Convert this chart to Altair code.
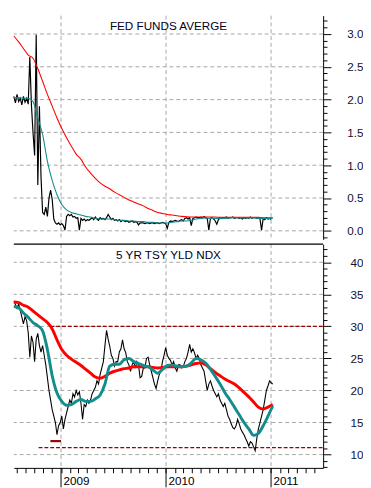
import altair as alt
import pandas as pd

X_START = "2008-07-21"
X_END = "2011-07-01"
YEARS = ["2009-01-01", "2010-01-01", "2011-01-01"]

# Fed funds effective rate, samples every ~5.5 days
fed_daily = [
    2.05, 1.95, 2.08, 1.97, 2.02, 1.92, 2.05, 1.96, 2.02, 1.93,
    2.65, 1.92, 1.50, 1.15, 2.99, 0.70, 1.90, 0.82, 0.28, 0.25,
    0.36, 0.22, 0.50, 0.62, 0.48, 0.18, 0.12, 0.10, 0.12, 0.09,
    0.11, 0.08, 0.01, 0.22, 0.25, 0.23, 0.25, 0.21, 0.22, 0.19,
    0.20, 0.01, 0.19, 0.16, 0.18, 0.15, 0.17, 0.16, 0.18, 0.20,
    0.17, 0.21, 0.18, 0.16, 0.20, 0.18, 0.19, 0.17, 0.20, 0.25,
    0.21, 0.17, 0.19, 0.16, 0.17, 0.15, 0.17, 0.14, 0.16, 0.15,
    0.14, 0.15, 0.13, 0.14, 0.15, 0.13, 0.14, 0.13, 0.09, 0.12,
    0.12, 0.12, 0.11, 0.12, 0.12, 0.11, 0.12, 0.12, 0.11, 0.12,
    0.12, 0.11, 0.12, 0.13, 0.12, 0.11, 0.04, 0.13, 0.15, 0.14,
    0.15, 0.16, 0.15, 0.14, 0.16, 0.17, 0.15, 0.19, 0.20, 0.18,
    0.20, 0.08, 0.19, 0.20, 0.21, 0.20, 0.20, 0.21, 0.20, 0.22,
    0.20, 0.19, 0.01, 0.19, 0.20, 0.18, 0.15, 0.10, 0.17, 0.19,
    0.20, 0.19, 0.20, 0.21, 0.19, 0.20, 0.20, 0.21, 0.19, 0.20,
    0.20, 0.19, 0.20, 0.18, 0.20, 0.19, 0.20, 0.19, 0.21, 0.19,
    0.20, 0.20, 0.19, 0.20, 0.18, 0.01, 0.19, 0.17, 0.20, 0.18,
    0.19, 0.17,
]
# short moving average, samples every ~16.7 days
fed_fast = [
    2.03, 2.03, 2.02, 2.02, 1.97, 1.72, 1.47, 1.06, 0.77, 0.55,
    0.40, 0.32, 0.28, 0.26, 0.24, 0.22, 0.21, 0.19, 0.18, 0.18,
    0.18, 0.17, 0.16, 0.16, 0.15, 0.15, 0.14, 0.14, 0.13, 0.13,
    0.12, 0.12, 0.12, 0.13, 0.14, 0.15, 0.15, 0.16, 0.18, 0.19,
    0.195, 0.19, 0.19, 0.19, 0.19, 0.195, 0.20, 0.20, 0.195, 0.195,
    0.20, 0.19, 0.19, 0.19, 0.19,
]
# long moving average
fed_slow = [
    2.97, 2.88, 2.78, 2.68, 2.63, 2.47, 2.28, 2.08, 1.90, 1.72,
    1.56, 1.42, 1.29, 1.17, 1.09, 0.97, 0.88, 0.80, 0.73, 0.68,
    0.64, 0.59, 0.55, 0.51, 0.47, 0.44, 0.41, 0.38, 0.34, 0.31,
    0.28, 0.265, 0.25, 0.24, 0.23, 0.22, 0.215, 0.21, 0.21, 0.21,
    0.21, 0.21, 0.21, 0.205, 0.205, 0.205, 0.205, 0.205, 0.205, 0.205,
    0.205, 0.205, 0.20, 0.20, 0.20,
]

# 5 yr treasury yield index
tsy_daily = [
    33.9, 33.4, 32.8, 33.5, 32.5, 31.5, 30.4, 31.5, 30.9, 29.0,
    25.2, 28.5, 27.5, 24.5, 28.0, 28.9, 27.0, 26.0, 27.0, 25.5,
    24.0, 22.0, 20.0, 18.5, 17.0, 16.0, 15.0, 13.1, 14.5, 15.0,
    16.0, 14.0, 15.5, 16.5, 17.5, 18.5, 18.0, 19.5, 19.0, 20.0,
    19.3, 19.8, 18.0, 15.5, 17.8, 17.5, 18.5, 18.0, 18.5, 19.5,
    20.0, 20.5, 21.5, 21.0, 22.5, 23.5, 24.5, 27.0, 29.4, 28.0,
    26.9, 25.5, 25.0, 23.8, 24.5, 24.5, 26.0, 26.5, 27.9, 26.5,
    25.9, 24.5, 24.0, 23.0, 24.0, 24.5, 23.5, 24.5, 24.0, 22.0,
    22.2, 23.5, 23.5, 25.0, 25.2, 24.0, 23.0, 22.0, 21.0, 20.3,
    21.5, 22.5, 23.0, 24.5, 25.5, 26.7, 25.5, 25.0, 24.7, 24.0,
    24.5, 23.5, 23.0, 24.0, 24.0, 23.5, 23.7, 24.5, 25.0, 26.0,
    27.2, 26.0, 26.5, 25.9, 25.0, 25.5, 25.0, 24.0, 23.5, 23.0,
    21.5, 20.0, 21.0, 21.5, 20.7, 20.0, 19.5, 19.0, 19.5, 18.5,
    18.0, 17.5, 18.0, 17.0, 16.0, 15.5, 14.8, 14.2, 14.0, 14.5,
    15.5, 14.8, 14.0, 13.5, 13.1, 12.5, 12.0, 11.3, 12.0, 11.8,
    11.2, 10.6, 12.5, 14.0, 15.0, 16.0, 17.0, 18.5, 20.0, 20.7,
    21.5, 21.2, 21.0,
]
tsy_fast = [
    33.1, 32.9, 32.1, 31.4, 30.6, 30.1, 29.3, 26.4, 22.3, 19.6,
    18.3, 17.7, 17.8, 18.3, 18.6, 18.3, 18.3, 18.7, 19.3, 21.0,
    23.8, 24.1, 24.1, 24.8, 25.0, 24.5, 24.2, 23.9, 23.7, 23.2,
    22.7, 23.3, 23.9, 24.0, 23.8, 23.7, 23.8, 24.3, 25.0, 24.8,
    24.3, 23.3, 22.2, 21.0, 19.7, 18.6, 17.4, 16.2, 15.0, 14.0,
    13.0, 13.3, 14.5, 16.0, 17.6,
]
tsy_slow = [
    33.8, 33.7, 33.3, 33.0, 32.4, 31.8, 31.2, 30.6, 29.6, 27.9,
    26.4, 25.5, 24.9, 24.4, 23.9, 23.3, 22.7, 22.1, 21.9, 22.2,
    22.7, 23.0, 23.2, 23.4, 23.5, 23.7, 23.7, 23.7, 23.7, 23.6,
    23.5, 23.6, 23.7, 23.7, 23.7, 23.7, 23.8, 24.0, 24.2, 24.3,
    24.0, 23.4, 22.8, 22.3, 21.8, 21.4, 21.0, 20.4, 19.7, 19.0,
    18.2, 17.4, 17.1, 17.4, 17.8,
]

fed_levels = [0.0, 0.5, 1.0, 1.5, 2.0, 2.5, 3.0]
tsy_levels = [10, 15, 20, 25, 30, 35, 40]
fed_ticks = [round(-0.1 + 0.1 * i, 1) for i in range(34)]
tsy_ticks = list(range(8, 43))

tsy_marks = pd.DataFrame({
    "d": pd.to_datetime(["2008-11-25", "2008-10-15"]),
    "d2": pd.to_datetime([X_END, X_END]),
    "v": [30.0, 11.1],
})
tsy_low = pd.DataFrame({
    "d": pd.to_datetime(["2008-11-25"]),
    "d2": pd.to_datetime(["2009-01-01"]),
    "v": [12.1],
})

FINE = "8000min"
COARSE = "24000min"
FONT = "Liberation Sans"
RED = "#ff0000"
TEAL = "#128c8c"
DARKRED = "#990000"
GRID = "#a4a4a4"
W = 318

xscale = alt.Scale(domain=[alt.DateTime(year=2008, month=7, date=21),
                           alt.DateTime(year=2011, month=7, date=1)])
month_ticks = [alt.DateTime(year=d.year, month=d.month, date=1)
               for d in pd.date_range("2008-08-01", "2011-06-01", freq="MS")]


def series(values, freq):
    return pd.DataFrame({"d": pd.date_range(X_START, periods=len(values), freq=freq), "v": values})


def panel(daily, fast, slow, levels, ticks, domain, test, fmt, title, height, bottom, thick):
    yscale = alt.Scale(domain=domain, nice=False, zero=False)
    yaxis = alt.Axis(orient="right", values=ticks, title=None, grid=False,
                     labelExpr=f"({test}) ? format(datum.value, '{fmt}') : ''",
                     tickSize={"condition": {"test": test, "value": 8}, "value": 4},
                     labelAlign="right", labelPadding=33, labelFont=FONT, labelFontSize=12,
                     labelColor="#111133", domainColor="black", tickColor="black",
                     labelOverlap=False, labelFlush=False)
    if bottom:
        xaxis = alt.Axis(values=month_ticks, title=None, grid=False, tickSize=5,
                         labelExpr="month(datum.value) == 0 ? timeFormat(datum.value, '%Y') : ''",
                         labelAlign="left", labelOffset=2, labelPadding=3, labelFont=FONT,
                         labelFontSize=12, labelColor="black", domainColor="black",
                         tickColor="black", labelOverlap=False, labelFlush=False)
    else:
        xaxis = None

    X = alt.X("d:T", scale=xscale, axis=xaxis)
    Y = alt.Y("v:Q", scale=yscale, axis=yaxis)

    years = pd.DataFrame({"d": pd.to_datetime(YEARS)})
    layers = [
        alt.Chart(years).mark_rule(color=GRID, strokeDash=[4, 3], strokeWidth=1).encode(x=X),
        alt.Chart(pd.DataFrame({"v": levels})).mark_rule(
            color=GRID, strokeDash=[4, 3], strokeWidth=1).encode(y=Y),
    ]
    if bottom:
        layers.append(alt.Chart(tsy_marks).mark_rule(color=DARKRED, strokeDash=[4, 2], strokeWidth=1.3).encode(
            x=X, x2="d2:T", y=Y))
        layers.append(alt.Chart(tsy_low).mark_rule(color=DARKRED, strokeWidth=2.2).encode(
            x=X, x2="d2:T", y=Y))
        layers.append(alt.Chart(years).mark_rule(color="black", strokeWidth=1).encode(
            x=X, y=alt.value(height), y2=alt.value(height + 20)))
        # panel separator along the top edge
        layers.append(alt.Chart(pd.DataFrame({"t": [title]})).mark_rule(color="black", strokeWidth=1.2).encode(
            x=alt.value(0), x2=alt.value(W), y=alt.value(0)))
    layers.append(alt.Chart(series(daily, FINE)).mark_line(
        color="black", strokeWidth=1.1 if bottom else 1.2).encode(x=X, y=Y))
    layers.append(alt.Chart(series(slow, COARSE)).mark_line(
        color=RED, strokeWidth=thick, interpolate="monotone").encode(x=X, y=Y))
    layers.append(alt.Chart(series(fast, COARSE)).mark_line(
        color=TEAL, strokeWidth=thick, interpolate="monotone").encode(x=X, y=Y))
    layers.append(alt.Chart(pd.DataFrame({"t": [title]})).mark_text(
        font=FONT, fontSize=12, color="#000022", align="center", baseline="alphabetic").encode(
        text="t:N", x=alt.value(W / 2), y=alt.value(15)))
    return alt.layer(*layers).properties(width=W, height=height)


top = panel(fed_daily, fed_fast, fed_slow, fed_levels, fed_ticks, [-0.13, 3.28],
            "abs(datum.value * 2 - round(datum.value * 2)) < 0.001", ".1f",
            "FED FUNDS AVERGE", 230, False, 1.1)
bottom = panel(tsy_daily, tsy_fast, tsy_slow, tsy_levels, tsy_ticks, [7.92, 42.82],
               "datum.value % 5 == 0", "d", "5 YR TSY YLD NDX", 230, True, 3)

chart = alt.vconcat(top, bottom, spacing=0).properties(padding=0).configure_view(stroke=None)

chart.save("out.html", embed_options={"renderer": "svg", "actions": False})
